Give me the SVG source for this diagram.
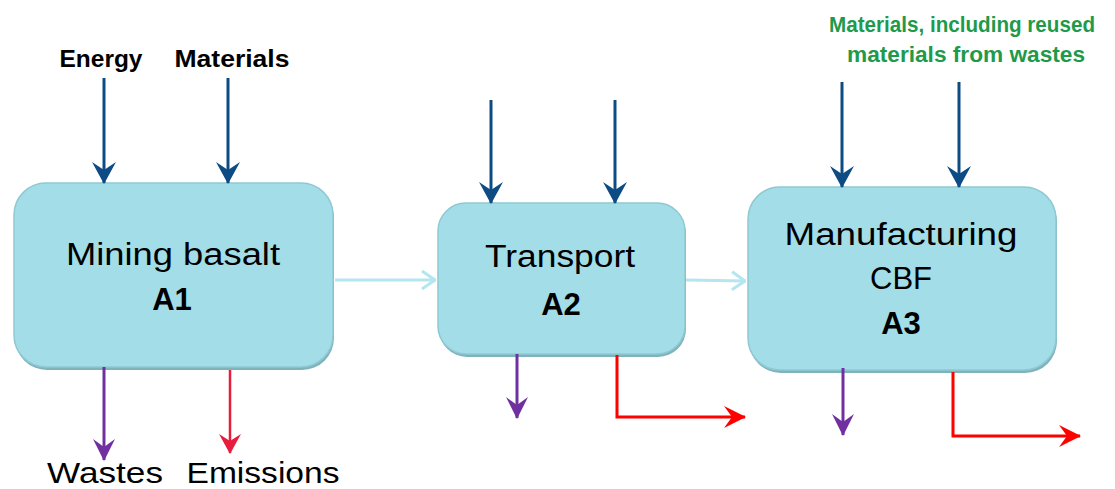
<svg xmlns="http://www.w3.org/2000/svg" width="1115" height="489" viewBox="0 0 1115 489">
<style>
.box{fill:#a3dde8;stroke:#8ec9d3;stroke-width:1.5}
.shadow{fill:#7fb3bc}
.t{font-family:"Liberation Sans",Arial,sans-serif;font-size:31px;fill:#000;text-anchor:middle}
.b{font-weight:bold}
.lbl{font-family:"Liberation Sans",Arial,sans-serif;font-weight:bold;font-size:24px;fill:#000;text-anchor:middle}
.g{fill:#1e9a4a;font-size:22px}
.big{font-family:"Liberation Sans",Arial,sans-serif;font-size:29px;fill:#000;text-anchor:middle}
.in{stroke:#0d4b84;stroke-width:3;fill:none}
.pu{stroke:#7030a0;stroke-width:3;fill:none}
.re{stroke:#e81c3c;stroke-width:2.5;fill:none}
.rd{stroke:#ff0000;stroke-width:3;fill:none}
.lt{stroke:#b3e6ef;stroke-width:3;fill:none}
</style>
<defs>
<marker id="hBlue" markerUnits="userSpaceOnUse" markerWidth="40" markerHeight="40" viewBox="-30 -20 40 40" refX="0" refY="0" orient="auto">
<path d="M1,0 L-21,-12 L-13,0 L-21,12 Z" fill="#0d4b84"/>
</marker>
<marker id="hPur" markerUnits="userSpaceOnUse" markerWidth="40" markerHeight="40" viewBox="-30 -20 40 40" refX="0" refY="0" orient="auto">
<path d="M1,0 L-21,-11 L-13,0 L-21,11 Z" fill="#7030a0"/>
</marker>
<marker id="hRe" markerUnits="userSpaceOnUse" markerWidth="40" markerHeight="40" viewBox="-30 -20 40 40" refX="0" refY="0" orient="auto">
<path d="M1,0 L-19,-11 L-12,0 L-19,11 Z" fill="#e81c3c"/>
</marker>
<marker id="hRd" markerUnits="userSpaceOnUse" markerWidth="40" markerHeight="40" viewBox="-30 -20 40 40" refX="0" refY="0" orient="auto">
<path d="M1,0 L-21,-11 L-13,0 L-21,11 Z" fill="#ff0000"/>
</marker>
<marker id="hLt" markerUnits="userSpaceOnUse" markerWidth="40" markerHeight="40" viewBox="-30 -20 40 40" refX="0" refY="0" orient="auto">
<path d="M-1,0 L-14,-9 M-1,0 L-14,9" stroke="#b3e6ef" stroke-width="3" fill="none"/>
</marker>
</defs>

<g id="labels">
<text class="lbl" x="101" y="67" textLength="83" lengthAdjust="spacingAndGlyphs">Energy</text>
<text class="lbl" x="232" y="67" textLength="115" lengthAdjust="spacingAndGlyphs">Materials</text>
<text class="lbl g" x="962" y="32" textLength="266" lengthAdjust="spacingAndGlyphs">Materials, including reused</text>
<text class="lbl g" x="966" y="62" textLength="238" lengthAdjust="spacingAndGlyphs">materials from wastes</text>
<text class="big" x="105" y="483" textLength="116" lengthAdjust="spacingAndGlyphs">Wastes</text>
<text class="big" x="263" y="483" textLength="153" lengthAdjust="spacingAndGlyphs">Emissions</text>
</g>

<g id="A1">
<rect class="shadow" x="15" y="186" width="319" height="184" rx="32"/>
<rect class="box" x="14" y="183" width="319" height="184" rx="32"/>
<text class="t" x="173" y="265" textLength="214" lengthAdjust="spacingAndGlyphs">Mining basalt</text>
<text class="t b" x="172" y="310">A1</text>
</g>

<g id="A2">
<rect class="shadow" x="439" y="206" width="247" height="151" rx="28"/>
<rect class="box" x="438" y="203" width="247" height="151" rx="28"/>
<text class="t" x="560" y="267" textLength="150" lengthAdjust="spacingAndGlyphs">Transport</text>
<text class="t b" x="561" y="315">A2</text>
</g>

<g id="A3">
<rect class="shadow" x="749" y="190" width="308" height="183" rx="32"/>
<rect class="box" x="748" y="187" width="308" height="183" rx="32"/>
<text class="t" x="901" y="245" textLength="233" lengthAdjust="spacingAndGlyphs">Manufacturing</text>
<text class="t" x="901" y="289">CBF</text>
<text class="t b" x="901" y="334">A3</text>
</g>

<g id="connectors">
<line class="in" x1="104" y1="78" x2="104" y2="183" marker-end="url(#hBlue)"/>
<line class="in" x1="228" y1="78" x2="228" y2="183" marker-end="url(#hBlue)"/>
<line class="in" x1="491" y1="100" x2="491" y2="203" marker-end="url(#hBlue)"/>
<line class="in" x1="615" y1="100" x2="615" y2="203" marker-end="url(#hBlue)"/>
<line class="in" x1="842" y1="82" x2="842" y2="187" marker-end="url(#hBlue)"/>
<line class="in" x1="959" y1="82" x2="959" y2="187" marker-end="url(#hBlue)"/>

<line class="lt" x1="335" y1="280" x2="436" y2="280" marker-end="url(#hLt)"/>
<line class="lt" x1="686" y1="280" x2="746" y2="281" marker-end="url(#hLt)"/>

<line class="pu" x1="104" y1="367" x2="104" y2="460" marker-end="url(#hPur)"/>
<line class="re" x1="230" y1="370" x2="230" y2="453" marker-end="url(#hRe)"/>
<line class="pu" x1="517" y1="354" x2="517" y2="418" marker-end="url(#hPur)"/>
<polyline class="rd" points="617,355 617,417 745,417" marker-end="url(#hRd)"/>
<line class="pu" x1="843" y1="368" x2="843" y2="435" marker-end="url(#hPur)"/>
<polyline class="rd" points="953,372 953,436 1080,436" marker-end="url(#hRd)"/>
</g>
</svg>
